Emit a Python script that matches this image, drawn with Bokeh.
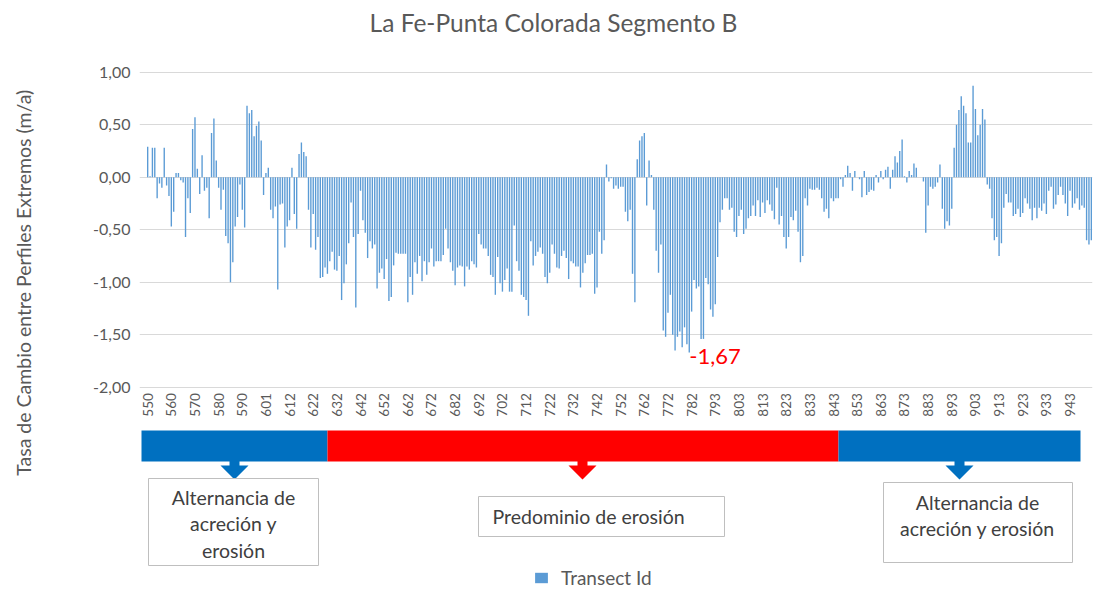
import numpy as np
from bokeh.plotting import figure
from bokeh.models import (ColumnDataSource, Range1d, FixedTicker, CustomJSTickFormatter,
                          Legend, LegendItem)
from bokeh.core.properties import value
from bokeh.embed import file_html
from bokeh.resources import INLINE

# ---------------- data ----------------
tick_labels = [550, 560, 570, 580, 590, 601, 612, 622, 632, 642, 652, 662, 672, 682,
               692, 702, 712, 722, 732, 742, 752, 762, 772, 782, 793, 803, 813, 823,
               833, 843, 853, 863, 873, 883, 893, 903, 913, 923, 933, 943]

rates = [
    0.29, 0.01, 0.28, 0.28, -0.20, -0.06, -0.10, 0.28, -0.08, -0.18,
    -0.47, -0.33, 0.04, 0.04, -0.03, -0.05, -0.57, -0.20, -0.34, 0.46,
    0.57, 0.08, -0.16, 0.21, -0.13, -0.10, -0.39, 0.42, 0.56, 0.16,
    -0.10, -0.31, -0.12, -0.56, -0.63, -1.00, -0.81, -0.47, -0.38, -0.07,
    -0.31, -0.48, 0.68, 0.61, 0.64, 0.39, 0.49, 0.53, 0.35, -0.17,
    0.04, 0.09, -0.31, -0.39, -0.28, -1.07, -0.26, -0.25, -0.67, -0.47,
    -0.41, 0.09, -0.35, -0.49, 0.22, 0.33, 0.24, 0.20, -0.31, -0.67,
    -0.35, -0.69, -0.57, -0.96, -0.95, -0.86, -0.92, -0.80, -0.71, -0.88,
    -0.89, -0.75, -1.17, -1.01, -0.83, -0.63, -0.24, -0.57, -1.24, -0.54,
    -0.13, -0.41, -0.53, -0.77, -0.61, -0.68, -0.64, -1.06, -0.91, -0.87,
    -0.97, -0.78, -1.18, -1.14, -0.84, -0.72, -0.73, -0.73, -0.73, -0.73,
    -1.19, -0.95, -1.12, -0.81, -0.92, -0.75, -0.99, -0.80, -0.93, -0.81,
    -0.68, -0.85, -0.80, -0.80, -0.80, -0.74, -0.49, -0.68, -0.81, -0.89,
    -1.03, -0.86, -0.84, -0.85, -1.04, -0.85, -0.88, -0.80, -0.83, -0.86,
    -0.54, -0.64, -0.68, -0.68, -0.75, -0.93, -0.95, -1.12, -0.76, -1.01,
    -1.09, -0.98, -0.87, -1.09, -1.09, -0.46, -0.80, -0.89, -1.12, -1.14,
    -1.17, -1.32, -0.61, -0.84, -0.75, -0.71, -0.67, -0.73, -0.95, -1.01,
    -0.91, -0.64, -0.73, -0.86, -0.87, -0.75, -0.70, -0.77, -0.97, -0.80,
    -0.82, -0.85, -0.85, -1.05, -0.91, -0.82, -0.74, -0.74, -0.73, -1.11,
    -1.05, -0.52, -0.73, -0.60, 0.12, -0.04, -0.01, -0.11, -0.08, -0.11,
    -0.09, -0.09, -0.33, -0.42, -0.31, -0.92, -1.19, 0.17, 0.35, 0.39,
    0.42, -0.27, 0.16, 0.02, -0.31, -0.70, -0.91, -0.64, -1.46, -1.52,
    -1.29, -1.12, -1.50, -1.65, -1.52, -1.47, -1.62, -1.43, -1.59, -1.67,
    -1.28, -0.98, -1.06, -1.04, -1.54, -1.54, -0.96, -1.02, -1.26, -1.33,
    -1.21, -0.76, -0.43, -0.31, -0.20, -0.20, -0.31, -0.29, -0.52, -0.57,
    -0.37, -0.31, -0.54, -0.49, -0.39, -0.37, -0.27, -0.37, -0.22, -0.38,
    -0.24, -0.34, -0.22, -0.26, -0.32, -0.40, -0.10, -0.45, -0.37, -0.57,
    -0.68, -0.57, -0.38, -0.41, -0.32, -0.52, -0.81, -0.75, -0.20, -0.27,
    -0.11, -0.12, -0.12, -0.10, -0.12, -0.20, -0.33, -0.30, -0.39, -0.20,
    -0.23, -0.20, -0.20, -0.02, -0.09, 0.02, 0.11, 0.04, -0.13, 0.06,
    0.00, -0.02, -0.19, 0.06, -0.17, -0.14, -0.12, -0.13, 0.02, -0.05,
    0.06, -0.02, 0.07, 0.10, -0.11, 0.07, 0.20, 0.14, 0.25, 0.36,
    0.01, -0.05, 0.06, 0.02, 0.13, 0.09, 0.00, 0.00, -0.04, -0.53,
    -0.27, -0.09, -0.11, -0.09, -0.05, 0.12, -0.30, -0.49, -0.42, -0.46,
    -0.30, 0.28, 0.50, 0.64, 0.77, 0.68, 0.61, 0.33, 0.33, 0.87,
    0.65, 0.40, 0.50, 0.65, 0.55, -0.07, -0.11, -0.39, -0.60, -0.57,
    -0.75, -0.63, -0.29, -0.16, -0.24, -0.24, -0.37, -0.35, -0.30, -0.38,
    -0.34, -0.20, -0.25, -0.30, -0.41, -0.29, -0.39, -0.29, -0.32, -0.25,
    -0.35, -0.13, -0.09, -0.30, -0.26, -0.17, -0.09, -0.17, -0.25, -0.37,
    -0.13, -0.29, -0.25, -0.20, -0.31, -0.27, -0.29, -0.60, -0.64, -0.60,
]

y_ticks = [-2.0, -1.5, -1.0, -0.5, 0.0, 0.5, 1.0]

chart_title = "La Fe-Punta Colorada Segmento B"
y_title = "Tasa de Cambio entre Perfiles Extremos  (m/a)"
series_name = "Transect Id"
segment_texts = ["Alternancia de\nacreción y\nerosión",
                 "Predominio de erosión",
                 "Alternancia de\nacreción y erosión"]
segment_colors = ["#0070C0", "#FF0000", "#0070C0"]

# ---------------- derived ----------------
n = len(rates)
transect_ids = [t + k for t in tick_labels for k in range(10)][:n]
idx = list(range(n))
src = ColumnDataSource(dict(idx=idx, rate=rates, tid=transect_ids))

FONT = "Lato"
GREY = "#595959"

# layout geometry (pixels of the page)
W, H = 1094, 589
PX_X = 2.365          # px per transect
PX_Y = 105.0          # px per 1 m/a
X0_S = 146.0          # left edge of first transect slot
Y1_S = 71.7           # y of the 1,00 gridline
FRAME_L, FRAME_R = 139, 1092
FRAME_T, FRAME_B = 0, H

def dx(xs):
    return (xs - X0_S) / PX_X - 0.5

def dy(ys):
    return 1.0 - (ys - Y1_S) / PX_Y

p = figure(width=W, height=H, output_backend="svg", toolbar_location=None,
           x_range=Range1d(dx(FRAME_L), dx(FRAME_R)),
           y_range=Range1d(dy(FRAME_B), dy(FRAME_T)),
           x_axis_location=None,
           min_border_left=FRAME_L, min_border_right=W - FRAME_R,
           min_border_top=FRAME_T, min_border_bottom=H - FRAME_B)
p.outline_line_color = None
p.background_fill_color = "white"

yax = p.yaxis[0]
yax.ticker = FixedTicker(ticks=y_ticks)
yax.formatter = CustomJSTickFormatter(code="return tick.toFixed(2).replace('.', ',');")
yax.axis_line_color = None
yax.major_tick_line_color = None
yax.minor_tick_line_color = None
yax.major_tick_out = 0
yax.major_tick_in = 0
yax.major_label_standoff = 9
yax.major_label_text_font = FONT
yax.major_label_text_font_size = "16px"
yax.major_label_text_color = GREY
# leading no-break spaces lift the visible label so it sits where the reference has it
yax.axis_label = "\u00a0" * 6 + y_title
yax.axis_label_standoff = 55
yax.axis_label_text_font = FONT
yax.axis_label_text_font_size = "19.5px"
yax.axis_label_text_font_style = "normal"
yax.axis_label_text_color = GREY

p.xgrid.visible = False
p.ygrid.grid_line_color = "#D9D9D9"
p.ygrid.grid_line_width = 1

# chart title
p.text(x=[dx(553)], y=[dy(22)], text=[chart_title], text_align="center",
       text_baseline="middle", text_font=value(FONT), text_font_size="24.5px",
       text_color=GREY)

bars = p.vbar(x="idx", top="rate", bottom=0, width=0.58, source=src,
              fill_color="#5B9BD5", line_color=None)

# x tick labels (every 10th transect)
tick_pos = [i * 10 for i in range(len(tick_labels))]
p.text(x=tick_pos, y=[min(y_ticks)] * len(tick_pos), text=[str(t) for t in tick_labels],
       angle=np.pi / 2, text_align="right", text_baseline="middle", y_offset=6,
       text_font=value(FONT), text_font_size="13.5px", text_color=GREY)

# minimum annotation
imin = int(np.argmin(rates))
p.text(x=[imin], y=[rates[imin]], text=[f"{rates[imin]:.2f}".replace(".", ",")],
       x_offset=0, y_offset=4, text_align="left", text_baseline="middle",
       text_font=value(FONT), text_font_size="22px", text_color="#FF0000")

# coloured segment bands
band_x = [141, 327, 838, 1080]
p.quad(left=[dx(v) for v in band_x[:-1]], right=[dx(v) for v in band_x[1:]],
       top=dy(430), bottom=dy(461), fill_color=segment_colors, line_color=None)

# down arrows
arrow_cx = [234, 582, 959]
xs, ys = [], []
for cx in arrow_cx:
    pts = [(cx - 5, 460.5), (cx + 5, 460.5), (cx + 5, 465), (cx + 14, 465), (cx, 479),
           (cx - 14, 465), (cx - 5, 465)]
    xs.append([dx(a) for a, b in pts])
    ys.append([dy(b) for a, b in pts])
p.patches(xs=xs, ys=ys, fill_color=segment_colors, line_color=None)

# text boxes
boxes = [(148, 318, 478, 565), (478, 724, 496, 536), (883, 1072, 482, 562)]
p.quad(left=[dx(b[0]) for b in boxes], right=[dx(b[1]) for b in boxes],
       top=[dy(b[2]) for b in boxes], bottom=[dy(b[3]) for b in boxes],
       fill_color="white", line_color="#BFBFBF", line_width=1)
p.text(x=[dx(233), dx(977)], y=[dy(523.5), dy(515)], text=[segment_texts[0], segment_texts[2]],
       text_align="center", text_baseline="middle", text_line_height=1.14,
       text_font=value(FONT), text_font_size="19.5px", text_color="#404040")
p.text(x=[dx(492)], y=[dy(516)], text=[segment_texts[1]],
       text_align="left", text_baseline="middle",
       text_font=value(FONT), text_font_size="19.5px", text_color="#404040")

legend = Legend(items=[LegendItem(label=series_name, renderers=[bars])],
                location=(533 - FRAME_L, 0), orientation="horizontal",
                border_line_color=None,
                background_fill_alpha=0, padding=0, margin=0, spacing=0,
                glyph_width=16, glyph_height=13, label_standoff=12,
                label_text_font=FONT, label_text_font_size="19px", label_text_color=GREY)
p.add_layout(legend)

open("out.html", "w").write(file_html(p, INLINE, chart_title))
